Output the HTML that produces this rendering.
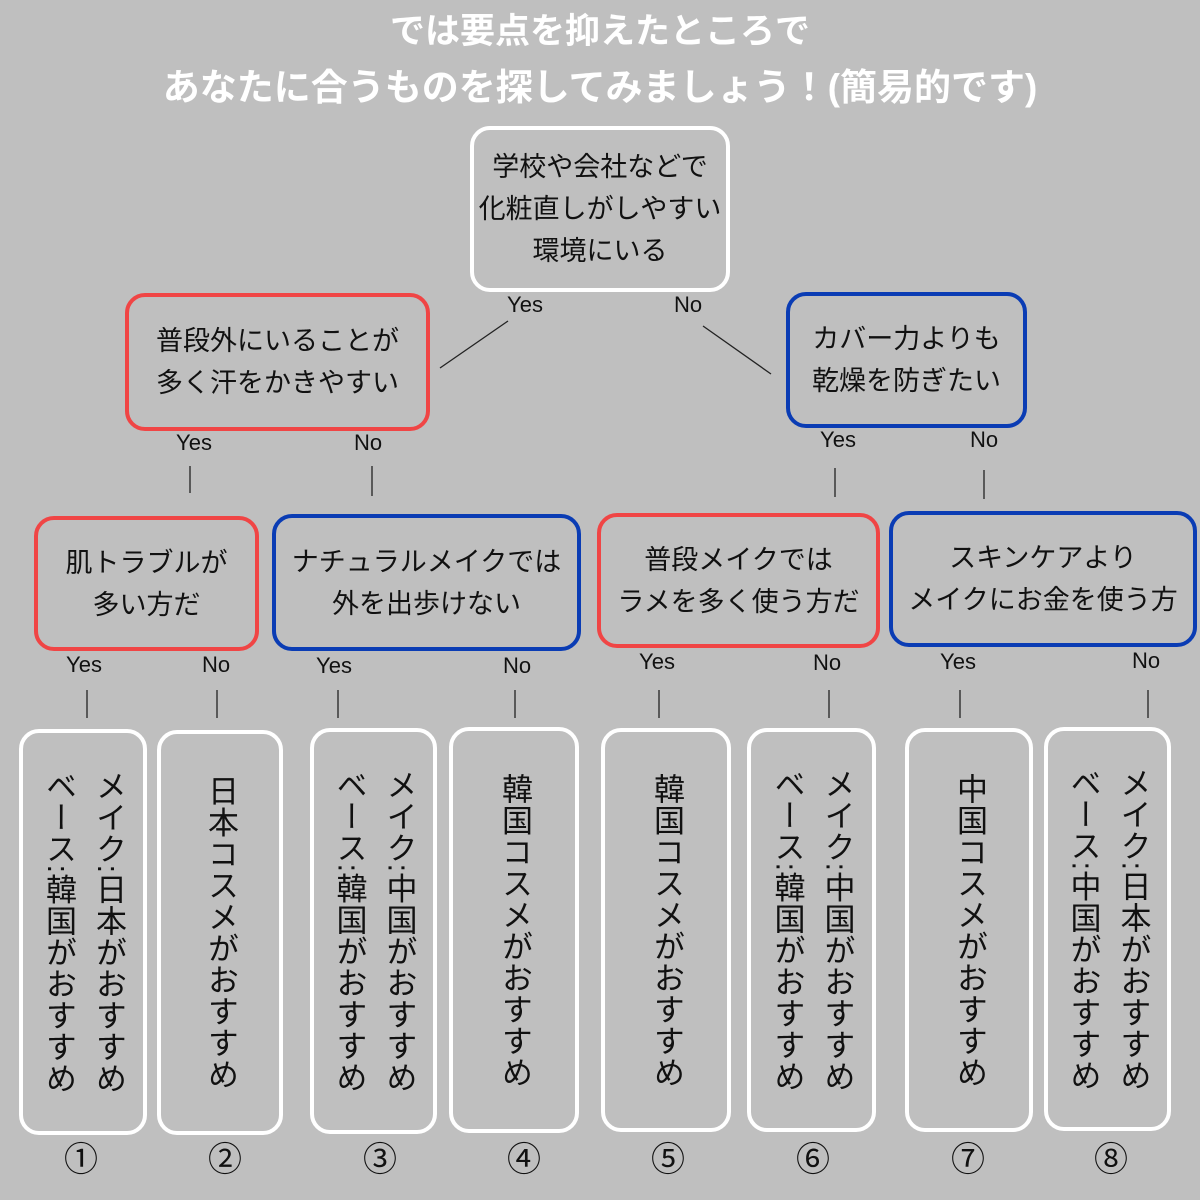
<!DOCTYPE html>
<html><head><meta charset="utf-8">
<style>
body{margin:0;width:1200px;height:1200px;background:#bfbfbf;position:relative;overflow:hidden;font-family:"Liberation Sans","Noto Sans CJK JP",sans-serif;color:#111;}
.t{position:absolute;left:0;width:1200px;text-align:center;color:#fff;font-weight:bold;font-size:35px;line-height:40px;white-space:nowrap;}
.b{position:absolute;box-sizing:border-box;border-radius:20px;display:flex;align-items:center;justify-content:center;text-align:center;font-size:27px;line-height:42px;white-space:nowrap;}
.w{border:4px solid #fff;}
.r{border:4px solid #f04545;}
.u{border:4px solid #0a3cb4;}
.v{writing-mode:vertical-rl;font-size:31px;line-height:50px;letter-spacing:0.5px;}
.l{position:absolute;font-size:22px;transform:translateX(-50%);white-space:nowrap;}
.n{position:absolute;font-size:34px;transform:translateX(-50%);top:1132px;}
svg{position:absolute;left:0;top:0}
</style></head><body>
<div class="t" style="top:12px">では要点を抑えたところで</div>
<div class="t" style="top:68px;font-size:37px">あなたに合うものを探してみましょう！(簡易的です)</div>
<svg width="1200" height="1200" stroke="#222" stroke-width="1.3">
<line x1="440" y1="368" x2="508" y2="321"/><line x1="703" y1="326" x2="771" y2="374"/>
<line x1="190" y1="466" x2="190" y2="493"/><line x1="372" y1="466" x2="372" y2="496"/>
<line x1="835" y1="468" x2="835" y2="497"/><line x1="984" y1="470" x2="984" y2="499"/>
<line x1="87" y1="690" x2="87" y2="718"/><line x1="217" y1="690" x2="217" y2="718"/>
<line x1="338" y1="690" x2="338" y2="718"/><line x1="515" y1="690" x2="515" y2="718"/>
<line x1="659" y1="690" x2="659" y2="718"/><line x1="829" y1="690" x2="829" y2="718"/>
<line x1="960" y1="690" x2="960" y2="718"/><line x1="1148" y1="690" x2="1148" y2="718"/>
</svg>
<div class="b w" style="left:470px;top:126px;width:260px;height:166px">学校や会社などで<br>化粧直しがしやすい<br>環境にいる</div>
<div class="b r" style="left:125px;top:293px;width:305px;height:138px">普段外にいることが<br>多く汗をかきやすい</div>
<div class="b u" style="left:786px;top:292px;width:241px;height:136px">カバー力よりも<br>乾燥を防ぎたい</div>
<div class="b r" style="left:34px;top:516px;width:225px;height:135px">肌トラブルが<br>多い方だ</div>
<div class="b u" style="left:272px;top:514px;width:309px;height:137px">ナチュラルメイクでは<br>外を出歩けない</div>
<div class="b r" style="left:597px;top:513px;width:283px;height:135px">普段メイクでは<br>ラメを多く使う方だ</div>
<div class="b u" style="left:889px;top:511px;width:308px;height:136px">スキンケアより<br>メイクにお金を使う方</div>
<div class="l" style="left:525px;top:292px">Yes</div><div class="l" style="left:688px;top:292px">No</div>
<div class="l" style="left:194px;top:430px">Yes</div><div class="l" style="left:368px;top:430px">No</div>
<div class="l" style="left:838px;top:427px">Yes</div><div class="l" style="left:984px;top:427px">No</div>
<div class="l" style="left:84px;top:652px">Yes</div><div class="l" style="left:216px;top:652px">No</div>
<div class="l" style="left:334px;top:653px">Yes</div><div class="l" style="left:517px;top:653px">No</div>
<div class="l" style="left:657px;top:649px">Yes</div><div class="l" style="left:827px;top:650px">No</div>
<div class="l" style="left:958px;top:649px">Yes</div><div class="l" style="left:1146px;top:648px">No</div>
<div class="b w v" style="left:19px;top:729px;width:128px;height:406px">メイク:日本がおすすめ<br>ベース:韓国がおすすめ</div>
<div class="b w v" style="left:157px;top:730px;width:126px;height:405px">日本コスメがおすすめ</div>
<div class="b w v" style="left:310px;top:728px;width:127px;height:406px">メイク:中国がおすすめ<br>ベース:韓国がおすすめ</div>
<div class="b w v" style="left:449px;top:727px;width:130px;height:406px">韓国コスメがおすすめ</div>
<div class="b w v" style="left:601px;top:728px;width:130px;height:404px">韓国コスメがおすすめ</div>
<div class="b w v" style="left:747px;top:728px;width:129px;height:404px">メイク:中国がおすすめ<br>ベース:韓国がおすすめ</div>
<div class="b w v" style="left:905px;top:728px;width:128px;height:404px">中国コスメがおすすめ</div>
<div class="b w v" style="left:1044px;top:727px;width:127px;height:404px">メイク:日本がおすすめ<br>ベース:中国がおすすめ</div>
<div class="n" style="left:81px">①</div><div class="n" style="left:225px">②</div>
<div class="n" style="left:380px">③</div><div class="n" style="left:524px">④</div>
<div class="n" style="left:668px">⑤</div><div class="n" style="left:813px">⑥</div>
<div class="n" style="left:968px">⑦</div><div class="n" style="left:1111px">⑧</div>
</body></html>
